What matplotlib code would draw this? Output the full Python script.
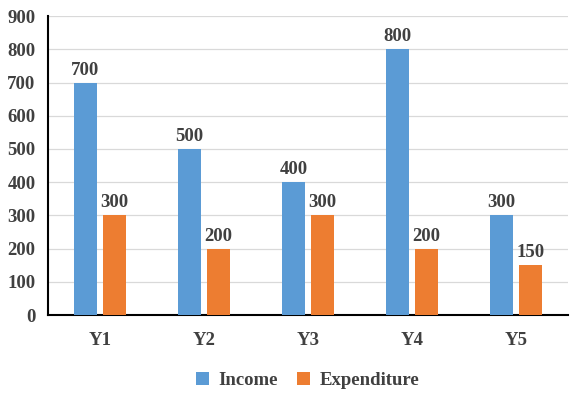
import matplotlib
matplotlib.use("Agg")
import matplotlib.pyplot as plt
import numpy as np

categories = ["Y1", "Y2", "Y3", "Y4", "Y5"]
income = [700, 500, 400, 800, 300]
expenditure = [300, 200, 300, 200, 150]
yticks = [0, 100, 200, 300, 400, 500, 600, 700, 800, 900]

plt.rcParams['font.family'] = ['Liberation Serif', 'DejaVu Serif']
plt.rcParams['font.weight'] = 'bold'
txt = '#404040'

fig = plt.figure(figsize=(5.74, 3.94), dpi=100)
ax = fig.add_axes([0.0836, 0.2005, 0.9064, 0.7585])

x = np.arange(len(categories))
w = 0.22
off = 0.14
b1 = ax.bar(x - off, income, w, color='#5B9BD5', label='Income', zorder=3)
b2 = ax.bar(x + off, expenditure, w, color='#ED7D31', label='Expenditure', zorder=3)

for bars, vals in ((b1, income), (b2, expenditure)):
    for r, v in zip(bars, vals):
        ax.text(r.get_x() + r.get_width() / 2, v + 12, str(v), ha='center', va='bottom',
                fontsize=13.5, fontweight='bold', color=txt)

ax.set_xlim(-0.5, len(categories) - 0.5)
ax.set_ylim(0, 900)
ax.set_yticks(yticks)
ax.set_yticklabels([str(t) for t in yticks])
ax.set_xticks(x)
ax.set_xticklabels(categories)
ax.tick_params(axis='both', length=0, labelsize=13.5, colors=txt)
ax.tick_params(axis='x', pad=12)
ax.tick_params(axis='y', pad=9)
for lab in ax.get_xticklabels() + ax.get_yticklabels():
    lab.set_fontweight('bold')
ax.grid(axis='y', color='#D9D9D9', linewidth=0.9, zorder=0)
ax.spines['top'].set_visible(False)
ax.spines['right'].set_visible(False)
ax.spines['left'].set_color('black')
ax.spines['bottom'].set_color('black')
ax.spines['left'].set_linewidth(1.5)
ax.spines['bottom'].set_linewidth(1.5)

leg = fig.legend(loc='center', bbox_to_anchor=(0.536, 0.034), ncol=2, frameon=False,
                 prop={'family': 'Liberation Serif', 'weight': 'bold', 'size': 13.5},
                 handlelength=0.7, handleheight=0.7, columnspacing=1.0, handletextpad=0.5,
                 borderpad=0)
for t in leg.get_texts():
    t.set_color(txt)

fig.savefig('out.png', dpi=100)
